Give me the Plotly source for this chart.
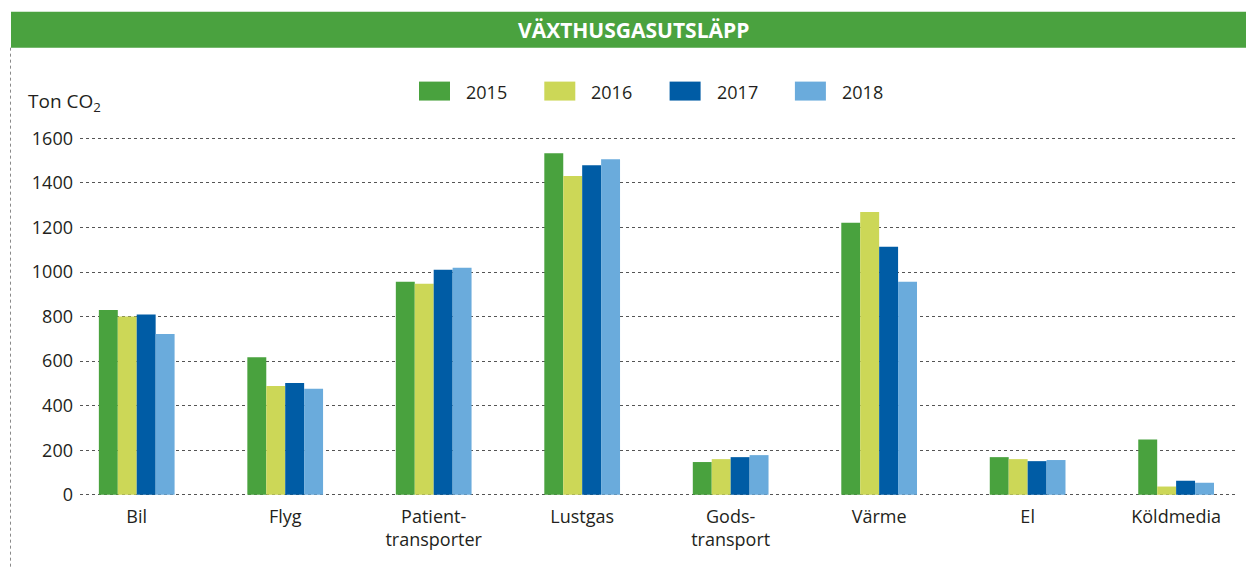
import plotly.graph_objects as go

categories = ["Bil", "Flyg", "Patient-<br>transporter", "Lustgas", "Gods-<br>transport", "Värme", "El", "Köldmedia"]
years = ["2015", "2016", "2017", "2018"]
v2015 = [830, 618, 957, 1534, 147, 1221, 169, 248]
v2016 = [800, 488, 948, 1431, 160, 1270, 160, 37]
v2017 = [810, 502, 1010, 1480, 169, 1114, 151, 63]
v2018 = [722, 476, 1019, 1507, 178, 957, 156, 54]
series = [v2015, v2016, v2017, v2018]
colors = ["#49a23e", "#ccd757", "#005ca5", "#6aabdc"]
y_ticks = [0, 200, 400, 600, 800, 1000, 1200, 1400, 1600]

W, H = 1246, 569
# plot area in page px
PL, PR = 80, 1237
PT, PB = 133.5, 497.2

def px(x):
    return (x - PL) / (PR - PL)

def py(y):
    return (PB - y) / (PB - PT)

FONT = "Open Sans, Noto Sans, sans-serif"
TXT = "#231f20"

fig = go.Figure()
for yr, vals, col in zip(years, series, colors):
    fig.add_trace(go.Bar(x=list(range(len(categories))), y=vals, name=yr,
                         marker=dict(color=col, line=dict(width=0)),
                         showlegend=False))

shapes = []
annotations = []
# title bar
shapes.append(dict(type="rect", xref="paper", yref="paper",
                   x0=px(11), x1=px(1246), y0=py(47), y1=py(11),
                   fillcolor="#4aa23f", line=dict(width=0), layer="below"))
annotations.append(dict(xref="paper", yref="paper", x=px(633), y=py(29.5),
                        text="<b>VÄXTHUSGASUTSLÄPP</b>", showarrow=False,
                        font=dict(family=FONT, size=21, color="white"),
                        xanchor="center", yanchor="middle"))
# dotted left frame line
shapes.append(dict(type="line", xref="paper", yref="paper",
                   x0=px(10.5), x1=px(10.5), y0=py(47), y1=py(569),
                   line=dict(color="#8a8a8a", width=1, dash="dot")))
# custom legend
for i, (yr, col) in enumerate(zip(years, colors)):
    x0 = 419 + i * 125.3
    shapes.append(dict(type="rect", xref="paper", yref="paper",
                       x0=px(x0), x1=px(x0 + 31), y0=py(100), y1=py(81),
                       fillcolor=col, line=dict(width=0)))
    annotations.append(dict(xref="paper", yref="paper", x=px(x0 + 45), y=py(91),
                            text=yr, showarrow=False, xanchor="left", yanchor="middle",
                            font=dict(family=FONT, size=18, color=TXT)))
# y-axis title
annotations.append(dict(xref="paper", yref="paper", x=px(26), y=py(101),
                        text="Ton CO<sub>2</sub>", showarrow=False,
                        xanchor="left", yanchor="middle",
                        font=dict(family=FONT, size=19, color=TXT)))

fig.update_layout(
    width=W, height=H,
    margin=dict(l=PL, r=W - PR, t=PT, b=H - PB, pad=0),
    paper_bgcolor="white", plot_bgcolor="white",
    barmode="group", bargap=0.49, bargroupgap=0,
    font=dict(family=FONT, size=18, color=TXT),
    shapes=shapes, annotations=annotations,
    xaxis=dict(tickmode="array", tickvals=list(range(len(categories))),
               ticktext=categories, range=[-0.382, 7.41],
               showgrid=False, zeroline=False, showline=False, ticks="",
               ticklabelstandoff=7,
               tickfont=dict(family=FONT, size=18, color=TXT)),
    yaxis=dict(range=[-10, 1620], tickmode="array", tickvals=y_ticks,
               showgrid=True, gridcolor="#555555", griddash="dot", gridwidth=1,
               zeroline=False, showline=False, ticks="",
               ticklabelstandoff=6,
               tickfont=dict(family=FONT, size=18, color=TXT)),
)

fig.write_html("out.html",
               config={"displayModeBar": False},
               post_script="document.body.style.margin='0px';document.body.style.overflow='hidden';")
